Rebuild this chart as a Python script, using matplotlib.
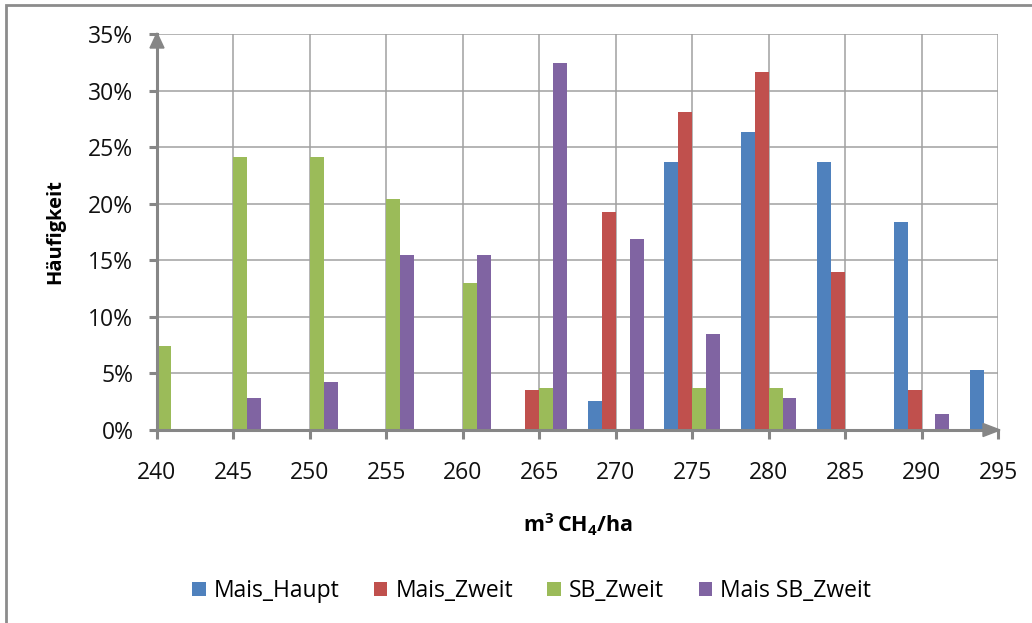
import matplotlib
matplotlib.use("Agg")
import matplotlib.pyplot as plt
from matplotlib.patches import Polygon, Rectangle
from matplotlib.ticker import FuncFormatter, MultipleLocator
import numpy as np

# Methane yield classes (m3 CH4/ha) and relative frequencies in percent
yield_classes = [240, 245, 250, 255, 260, 265, 270, 275, 280, 285, 290, 295]
mais_haupt = [0, 0, 0, 0, 0, 0, 2.6, 23.7, 26.3, 23.7, 18.4, 5.3]
mais_zweit = [0, 0, 0, 0, 0, 3.5, 19.3, 28.1, 31.6, 14.0, 3.5, 0]
sb_zweit = [7.4, 24.1, 24.1, 20.4, 13.0, 3.7, 0, 3.7, 3.7, 0, 0, 0]
mais_sb_zweit = [0, 2.8, 4.2, 15.5, 15.5, 32.4, 16.9, 8.5, 2.8, 0, 1.4, 0]

series_names = ["Mais_Haupt", "Mais_Zweit", "SB_Zweit", "Mais SB_Zweit"]
series_values = [mais_haupt, mais_zweit, sb_zweit, mais_sb_zweit]
colors = ["#4F81BD", "#C0504D", "#9BBB59", "#8064A2"]

plt.rcParams["font.family"] = ["Open Sans", "DejaVu Sans"]
plt.rcParams["mathtext.fontset"] = "custom"
plt.rcParams["mathtext.rm"] = "Open Sans"
plt.rcParams["mathtext.bf"] = "Open Sans:bold"

W, H = 1032, 623
fig = plt.figure(figsize=(W / 100, H / 100), dpi=100)
fig.patch.set_facecolor("white")

# plot area in pixels: x 157..998, y 34..430
left, right, top, bottom = 157, 998, 34, 430
ax = fig.add_axes([left / W, 1 - bottom / H, (right - left) / W, (bottom - top) / H])

x = np.array(yield_classes, dtype=float)
step = 5.0
bar_w = step / 5.5
offsets = (np.arange(4) - 1.5) * bar_w
for vals, name, col, off in zip(series_values, series_names, colors, offsets):
    ax.bar(x + off, vals, width=bar_w, color=col, label=name, zorder=3,
           edgecolor="none")

ax.set_xlim(yield_classes[0], yield_classes[-1])
ax.set_ylim(0, 35)
ax.set_xticks(yield_classes)
ax.yaxis.set_major_locator(MultipleLocator(5))
ax.yaxis.set_major_formatter(FuncFormatter(lambda v, p: f"{v:.0f}%"))

grid_col = "#A0A0A0"
axis_col = "#868686"
ax.grid(True, color=grid_col, linewidth=1.1, zorder=0)
ax.set_axisbelow(True)
for s in ["top", "right"]:
    ax.spines[s].set_visible(False)
for s in ["left", "bottom"]:
    ax.spines[s].set_color(axis_col)
    ax.spines[s].set_linewidth(2.2)
    ax.spines[s].set_zorder(4)

ax.tick_params(axis="x", direction="out", length=6.5, width=2.2, color=axis_col,
               labelsize=16.5, pad=16, labelcolor="#111111")
ax.tick_params(axis="y", direction="out", length=6, width=2.2, color=axis_col,
               labelsize=16.5, pad=11, labelcolor="#111111")

ax.set_xlabel(r"$\mathbf{m^{3}\,CH_{4}/ha}$", fontsize=15.5)
ax.xaxis.set_label_coords(0.5, -0.24)
ax.xaxis.label.set_va("center")
ax.set_ylabel("Häufigkeit", fontsize=14.5, fontweight="bold")
ax.yaxis.set_label_coords(-0.1213, 0.5)
ax.yaxis.label.set_va("center")

# arrow heads on both axes (axes fraction coordinates)
aw, ah = right - left, bottom - top
yarrow = Polygon([[0, (bottom - 33) / ah], [-7 / aw, (bottom - 48) / ah],
                  [7 / aw, (bottom - 48) / ah]], closed=True,
                 transform=ax.transAxes, color=axis_col, clip_on=False, zorder=6)
xarrow = Polygon([[(1000 - left) / aw, 0], [(983 - left) / aw, 6.5 / ah],
                  [(983 - left) / aw, -6.5 / ah]], closed=True,
                 transform=ax.transAxes, color=axis_col, clip_on=False, zorder=6)
ax.add_patch(yarrow)
ax.add_patch(xarrow)

# legend below the axis title
leg = fig.legend(loc="center", bbox_to_anchor=((196 + 867) / 2 / W, 1 - 591 / H),
                 ncol=4, frameon=False, fontsize=16.5, handlelength=0.6,
                 handleheight=0.6, handletextpad=0.35, columnspacing=1.5)

# outer chart frame
fig.add_artist(Rectangle((6 / W, -0.1), 1.2, 1.1 - 5 / H, transform=fig.transFigure,
                         fill=False, edgecolor="#8C8C8C", linewidth=2.0))

fig.savefig("out.png", dpi=100, facecolor="white")
